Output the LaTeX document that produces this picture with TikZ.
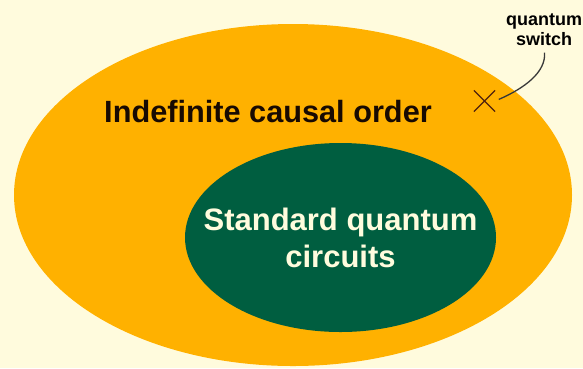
\documentclass[tikz,border=0pt]{standalone}
\usepackage{fontspec}
\setmainfont{Liberation Sans}
\usetikzlibrary{shapes.geometric, shapes.misc, positioning}

\definecolor{paper}{RGB}{255,251,221}
\definecolor{amber}{RGB}{255,177,0}
\definecolor{pine}{RGB}{0,94,64}
\definecolor{cream}{RGB}{255,252,222}
\definecolor{ink}{RGB}{24,10,2}
\definecolor{rust}{RGB}{80,34,14}

\begin{document}
\begin{tikzpicture}[
		x=1pt, y=-1pt,
		region/.style={
			ellipse,
			inner sep=0pt
		},
		settitle/.style={
			text=ink,
			inner sep=0pt,
			font=\fontsize{30.7}{36}\selectfont\bfseries
		},
		innertitle/.style={
			text=cream,
			align=center,
			inner sep=0pt,
			font=\fontsize{31}{37}\selectfont\bfseries
		},
		notetext/.style={
			align=center,
			inner sep=0pt,
			font=\fontsize{18}{20}\selectfont\bfseries
		},
		leader/.style={draw=black!78, line width=1.3pt}
		]
		
		\fill[paper] (0,0) rectangle (583,368);
		\useasboundingbox (0,0) rectangle (583,368);
		
		\node[region, fill=amber, minimum width=558pt, minimum height=342pt] (ico) at (293,195) {};
		
		\node[region, fill=pine, minimum width=311pt, minimum height=189pt] (sqc) at (340.5,237.5) {};
		
		\node[settitle, anchor=base] (icotitle) at (268,122) {Indefinite causal order};
		
		\node[innertitle] (sqctitle) at (sqc.center) {Standard quantum\\circuits};
		
		\node[cross out, draw=rust, line width=1.2pt, minimum size=20pt, inner sep=0pt] (qswitch) at (484.5,101) {};
		
		\node[notetext] (qswitchtext) at (544,29.5) {quantum\\switch};
		
		\draw[leader, shorten <=4pt, shorten >=7pt] (qswitch.east) .. controls (525,88) and (546,72) .. (qswitchtext.south);
		
	\end{tikzpicture}
\end{document}
